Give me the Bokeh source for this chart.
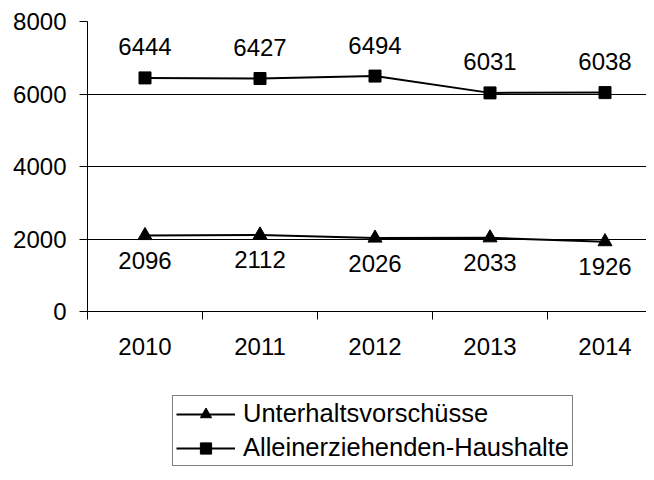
from bokeh.plotting import figure
from bokeh.layouts import column
from bokeh.models import (ColumnDataSource, FixedTicker, Range1d, Legend, LegendItem, Grid)
from bokeh.core.properties import value
from bokeh.embed import file_html
from bokeh.resources import INLINE

# ---- data ----
years = ["2010", "2011", "2012", "2013", "2014"]
unterhalt = [2096, 2112, 2026, 2033, 1926]
alleinerz = [6444, 6427, 6494, 6031, 6038]
y_ticks = [0, 2000, 4000, 6000, 8000]
series_names = ["Unterhaltsvorschüsse", "Alleinerziehenden-Haushalte"]

FONT = "Liberation Sans"
xs = [i + 0.5 for i in range(len(years))]

p = figure(width=646, height=380, output_backend="svg", toolbar_location=None,
           x_range=Range1d(0, 559 / 115), y_range=Range1d(0, 8000),
           min_border_left=87, min_border_right=0, min_border_top=21, min_border_bottom=69)
p.outline_line_color = None
p.background_fill_color = "white"
p.border_fill_color = "white"

# grids
p.xgrid.visible = False
p.ygrid.ticker = FixedTicker(ticks=y_ticks[1:-1])
p.ygrid.grid_line_color = "black"
p.ygrid.grid_line_width = 1
top_grid = Grid(dimension=1, ticker=FixedTicker(ticks=[y_ticks[-1]]),
                grid_line_color="#8c8c8c", grid_line_width=1)
p.add_layout(top_grid)

# y axis
p.yaxis.ticker = FixedTicker(ticks=y_ticks)
p.yaxis.axis_line_color = "black"
p.yaxis.major_tick_out = 8
p.yaxis.major_tick_in = 0
p.yaxis.minor_tick_line_color = None
p.yaxis.major_label_standoff = 13
p.yaxis.major_label_text_font = FONT
p.yaxis.major_label_text_font_size = "24px"
p.yaxis.major_label_text_color = "black"

# x axis
p.xaxis.ticker = FixedTicker(ticks=xs, minor_ticks=list(range(len(years) + 1)))
p.xaxis.major_label_overrides = {x: y for x, y in zip(xs, years)}
p.xaxis.major_tick_out = 8
p.xaxis.major_tick_in = 0
p.xaxis.major_tick_line_color = None
p.xaxis.minor_tick_out = 8
p.xaxis.minor_tick_in = 0
p.xaxis.minor_tick_line_color = "black"
p.xaxis.axis_line_color = "black"
p.xaxis.major_label_standoff = 18
p.xaxis.major_label_text_font = FONT
p.xaxis.major_label_text_font_size = "24px"
p.xaxis.major_label_text_color = "black"

src = ColumnDataSource(dict(x=xs, u=unterhalt, a=alleinerz,
                            ut=[str(v) for v in unterhalt], at=[str(v) for v in alleinerz]))

line_u = dict(line_color="black", line_width=2)
line_a = dict(line_color="black", line_width=2)

p.line("x", "u", source=src, **line_u)
p.scatter("x", "u", source=src, marker="triangle", size=14, fill_color="black", line_color="black")
p.line("x", "a", source=src, **line_a)
p.scatter("x", "a", source=src, marker="square", size=12, fill_color="black", line_color="black")

p.text("x", "u", text="ut", source=src, text_align="center", text_baseline="middle",
       y_offset=25, text_font=value(FONT), text_font_size="24px", text_color="black")
p.text("x", "a", text="at", source=src, text_align="center", text_baseline="middle",
       y_offset=-31, text_font=value(FONT), text_font_size="24px", text_color="black")

# ---- legend strip below the chart (series drawn again, out of its view) ----
q = figure(width=646, height=92, output_backend="svg", toolbar_location=None,
           x_range=Range1d(0, 1), y_range=Range1d(0, 1),
           x_axis_location=None, y_axis_location=None,
           min_border_left=0, min_border_right=0, min_border_top=0, min_border_bottom=0)
q.grid.visible = False
q.outline_line_color = None
q.background_fill_color = "white"
q.border_fill_color = "white"

ql1 = q.line("x", "u", source=src, **line_u)
qm1 = q.scatter("x", "u", source=src, marker="triangle", size=11, fill_color="black", line_color="black")
ql2 = q.line("x", "a", source=src, **line_a)
qm2 = q.scatter("x", "a", source=src, marker="square", size=10, fill_color="black", line_color="black")

legend = Legend(items=[LegendItem(label=series_names[0], renderers=[ql1, qm1]),
                       LegendItem(label=series_names[1], renderers=[ql2, qm2])],
                location=(85, 6))
legend.margin = 0
legend.padding = 3
legend.spacing = 5
legend.glyph_width = 59
legend.glyph_height = 28
legend.label_standoff = 8
legend.label_text_font = FONT
legend.label_text_font_size = "25.5px"
legend.label_text_color = "black"
legend.border_line_color = "black"
legend.border_line_width = 1
legend.background_fill_alpha = 1
q.add_layout(legend, "center")

layout = column(p, q, spacing=0)
open("out.html", "w").write(file_html(layout, INLINE))
